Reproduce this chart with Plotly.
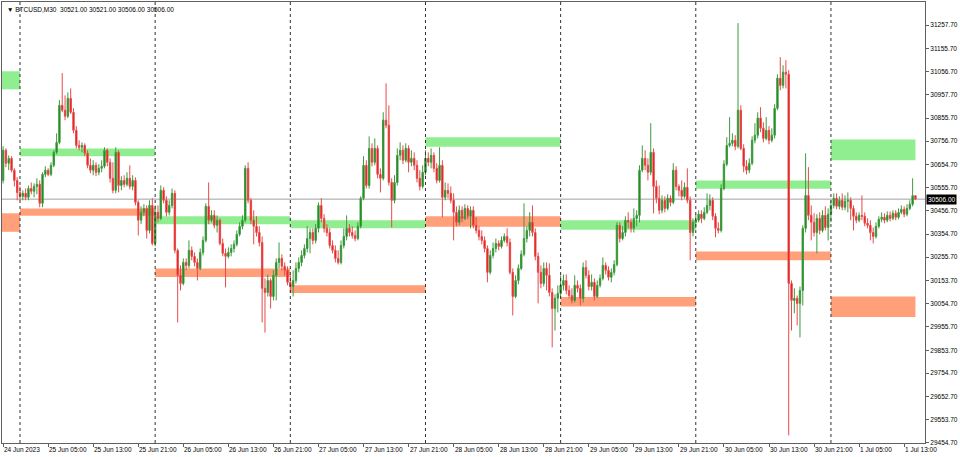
import plotly.graph_objects as go

# ---- OHLC data (M30 bars, 24 Jun 2023 21:00 -> 1 Jul 2023 15:00) ----
opens = [
    30587, 30717, 30661, 30682, 30631, 30587,
    30535, 30518, 30531, 30514, 30552, 30540, 30561, 30570, 30488, 30613, 30631, 30613, 30652, 30708, 30751, 30911, 30890, 30864, 30941, 30881, 30803, 30738, 30730, 30738, 30704, 30652, 30631, 30652, 30622, 30639, 30648, 30717, 30665, 30596, 30544, 30708, 30565, 30587, 30570, 30596, 30561, 30587, 30492, 30415, 30449, 30466, 30371, 30479,
    30315, 30449, 30423, 30544, 30501, 30449, 30479, 30531, 30285, 30177, 30142, 30233, 30220, 30285, 30259, 30233, 30207, 30276, 30328, 30475, 30415, 30436, 30393, 30415, 30315, 30272, 30259, 30276, 30293, 30311, 30354, 30389, 30415, 30639, 30501, 30415, 30389, 30362, 30319, 30121, 30103, 30155, 30086, 30177, 30233, 30250, 30216, 30199,
    30147, 30129, 30155, 30207, 30233, 30263, 30293, 30336, 30362, 30328, 30380, 30479, 30423, 30380, 30362, 30306, 30285, 30250, 30233, 30306, 30345, 30380, 30362, 30349, 30336, 30389, 30510, 30652, 30565, 30725, 30665, 30725, 30613, 30596, 30847, 30825, 30578, 30501, 30578, 30695, 30717, 30674, 30725, 30665, 30682, 30652, 30596, 30561,
    30622, 30682, 30665, 30695, 30639, 30587, 30652, 30514, 30544, 30531, 30501, 30449, 30406, 30458, 30423, 30466, 30432, 30458, 30393, 30371, 30345, 30328, 30293, 30190, 30263, 30293, 30315, 30302, 30328, 30345, 30319, 30190, 30086, 30155, 30207, 30268, 30336, 30371, 30406, 30362, 30259, 30190, 30142, 30207, 30177, 30103, 30034, 30078,
    30099, 30134, 30155, 30112, 30090, 30069, 30134, 30121, 30078, 30211, 30177, 30129, 30147, 30086, 30134, 30164, 30220, 30199, 30169, 30190, 30224, 30393, 30336, 30362, 30415, 30406, 30380, 30423, 30436, 30631, 30682, 30652, 30622, 30708, 30561, 30510, 30458, 30501, 30466, 30510, 30492, 30631, 30561, 30544, 30518, 30557, 30501, 30362,
    30406, 30415, 30441, 30423, 30449, 30479, 30501, 30432, 30380, 30371, 30552, 30657, 30738, 30747, 30760, 30734, 30890, 30725, 30648, 30631, 30661, 30760, 30782, 30856, 30812, 30768, 30803, 30760, 30782, 30898, 31028, 30997, 31054, 31045, 30142, 30069, 30078, 30056, 30112, 30380, 30522, 30436, 30406, 30362, 30423, 30371, 30436, 30384,
    30441, 30479, 30510, 30475, 30501, 30471, 30497, 30501, 30466, 30432, 30415, 30436, 30432, 30402, 30393, 30362, 30345, 30389, 30419, 30428, 30415, 30436, 30423, 30445, 30428, 30449, 30462, 30441, 30466, 30484, 30521,
]
highs = [
    30734, 30725, 30695, 30691, 30639, 30601,
    30561, 30544, 30552, 30565, 30578, 30574, 30596, 30587, 30622, 30648, 30639, 30665, 30717, 30790, 30933, 31050, 30954, 30967, 30984, 30898, 30821, 30760, 30751, 30747, 30717, 30682, 30674, 30665, 30657, 30674, 30730, 30725, 30682, 30665, 30730, 30717, 30605, 30609, 30622, 30652, 30609, 30600, 30501, 30475, 30484, 30479, 30501, 30510,
    30479, 30479, 30565, 30557, 30518, 30501, 30552, 30544, 30293, 30220, 30250, 30250, 30328, 30302, 30276, 30250, 30293, 30345, 30488, 30578, 30458, 30458, 30436, 30423, 30336, 30293, 30298, 30311, 30328, 30371, 30406, 30436, 30652, 30665, 30510, 30458, 30432, 30389, 30345, 30164, 30181, 30164, 30199, 30250, 30319, 30268, 30233, 30216,
    30177, 30199, 30233, 30255, 30285, 30311, 30389, 30380, 30380, 30398, 30492, 30510, 30441, 30398, 30380, 30328, 30306, 30285, 30328, 30380, 30436, 30398, 30389, 30371, 30406, 30518, 30691, 30674, 30777, 30747, 30768, 30738, 30639, 30881, 31006, 30911, 30596, 30609, 30725, 30751, 30738, 30747, 30738, 30717, 30708, 30674, 30631, 30652,
    30717, 30708, 30725, 30708, 30661, 30730, 30674, 30578, 30574, 30561, 30531, 30475, 30479, 30475, 30484, 30479, 30475, 30475, 30428, 30389, 30371, 30345, 30306, 30285, 30319, 30336, 30328, 30345, 30358, 30380, 30336, 30207, 30177, 30224, 30285, 30488, 30389, 30449, 30479, 30380, 30276, 30220, 30233, 30233, 30229, 30121, 30095, 30134,
    30177, 30181, 30181, 30134, 30121, 30177, 30155, 30138, 30233, 30242, 30199, 30181, 30164, 30155, 30181, 30255, 30233, 30216, 30207, 30242, 30406, 30406, 30389, 30432, 30449, 30423, 30466, 30458, 30652, 30738, 30717, 30682, 30834, 30725, 30587, 30565, 30522, 30518, 30527, 30522, 30661, 30648, 30570, 30587, 30578, 30639, 30518, 30423,
    30441, 30458, 30458, 30471, 30531, 30527, 30514, 30445, 30406, 30570, 30674, 30773, 30860, 30790, 30782, 31266, 30911, 30743, 30674, 30682, 30777, 30834, 30881, 30903, 30838, 30860, 30821, 30812, 30916, 31045, 31119, 31084, 31106, 31063, 30155, 30121, 30090, 30129, 30393, 30704, 30644, 30479, 30445, 30441, 30449, 30458, 30475, 30466,
    30501, 30531, 30531, 30518, 30531, 30522, 30535, 30514, 30479, 30449, 30449, 30522, 30449, 30423, 30415, 30384, 30406, 30432, 30449, 30445, 30453, 30453, 30458, 30458, 30466, 30479, 30475, 30484, 30501, 30596, 30521,
]
lows = [
    30574, 30644, 30631, 30622, 30561, 30501,
    30501, 30501, 30501, 30501, 30527, 30514, 30527, 30471, 30471, 30601, 30605, 30605, 30644, 30700, 30743, 30881, 30847, 30856, 30873, 30790, 30725, 30717, 30708, 30691, 30639, 30618, 30609, 30605, 30609, 30622, 30639, 30648, 30578, 30531, 30531, 30535, 30544, 30557, 30561, 30548, 30544, 30479, 30349, 30398, 30432, 30336, 30358, 30306,
    30302, 30406, 30415, 30488, 30432, 30436, 30466, 30272, 29974, 30112, 30134, 30199, 30207, 30242, 30216, 30155, 30199, 30263, 30319, 30398, 30406, 30380, 30362, 30306, 30259, 30125, 30250, 30259, 30276, 30302, 30345, 30376, 30406, 30488, 30398, 30311, 30345, 30302, 29974, 29930, 30086, 30034, 30069, 30069, 30207, 30199, 30177, 30134,
    30103, 30086, 30142, 30190, 30216, 30250, 30276, 30272, 30311, 30315, 30362, 30406, 30362, 30345, 30293, 30272, 30233, 30224, 30224, 30293, 30328, 30345, 30336, 30324, 30328, 30380, 30501, 30552, 30552, 30648, 30652, 30596, 30535, 30587, 30812, 30565, 30384, 30488, 30565, 30674, 30657, 30665, 30622, 30648, 30631, 30578, 30544, 30552,
    30609, 30648, 30639, 30622, 30574, 30578, 30428, 30501, 30510, 30488, 30328, 30389, 30393, 30406, 30415, 30419, 30380, 30380, 30358, 30328, 30311, 30276, 30147, 30181, 30250, 30276, 30285, 30293, 30319, 30302, 30181, 30004, 30078, 30138, 30199, 30259, 30319, 30345, 30345, 30242, 30056, 30121, 30129, 30112, 30086, 29866, 29939, 30017,
    30078, 30112, 30095, 30078, 30056, 30060, 30103, 30047, 30060, 30164, 30112, 30112, 30069, 30078, 30125, 30155, 30181, 30155, 30147, 30177, 30216, 30319, 30328, 30345, 30380, 30362, 30362, 30389, 30406, 30622, 30631, 30587, 30609, 30445, 30488, 30441, 30445, 30449, 30458, 30475, 30484, 30544, 30518, 30501, 30510, 30488, 30242, 30345,
    30380, 30406, 30402, 30415, 30441, 30458, 30415, 30341, 30358, 30362, 30544, 30648, 30730, 30734, 30717, 30725, 30717, 30622, 30613, 30618, 30652, 30747, 30768, 30795, 30751, 30760, 30743, 30751, 30768, 30890, 30976, 30984, 30984, 29486, 29939, 30013, 29961, 29909, 30047, 30362, 30415, 30328, 30345, 30272, 30354, 30362, 30371, 30328,
    30406, 30466, 30462, 30462, 30458, 30458, 30449, 30415, 30371, 30402, 30406, 30415, 30389, 30380, 30328, 30315, 30336, 30380, 30406, 30402, 30406, 30410, 30415, 30415, 30419, 30441, 30428, 30432, 30458, 30475, 30506,
]
closes = [
    30717, 30661, 30682, 30631, 30587, 30535,
    30518, 30531, 30514, 30552, 30540, 30561, 30570, 30488, 30613, 30631, 30613, 30652, 30708, 30751, 30911, 30890, 30864, 30941, 30881, 30803, 30738, 30730, 30738, 30704, 30652, 30631, 30652, 30622, 30639, 30648, 30717, 30665, 30596, 30544, 30708, 30565, 30587, 30570, 30596, 30561, 30587, 30492, 30415, 30449, 30466, 30371, 30479, 30315,
    30449, 30423, 30544, 30501, 30449, 30479, 30531, 30285, 30177, 30142, 30233, 30220, 30285, 30259, 30233, 30207, 30276, 30328, 30475, 30415, 30436, 30393, 30415, 30315, 30272, 30259, 30276, 30293, 30311, 30354, 30389, 30415, 30639, 30501, 30415, 30389, 30362, 30319, 30121, 30103, 30155, 30086, 30177, 30233, 30250, 30216, 30199, 30147,
    30129, 30155, 30207, 30233, 30263, 30293, 30336, 30362, 30328, 30380, 30479, 30423, 30380, 30362, 30306, 30285, 30250, 30233, 30306, 30345, 30380, 30362, 30349, 30336, 30389, 30510, 30652, 30565, 30725, 30665, 30725, 30613, 30596, 30847, 30825, 30578, 30501, 30578, 30695, 30717, 30674, 30725, 30665, 30682, 30652, 30596, 30561, 30622,
    30682, 30665, 30695, 30639, 30587, 30652, 30514, 30544, 30531, 30501, 30449, 30406, 30458, 30423, 30466, 30432, 30458, 30393, 30371, 30345, 30328, 30293, 30190, 30263, 30293, 30315, 30302, 30328, 30345, 30319, 30190, 30086, 30155, 30207, 30268, 30336, 30371, 30406, 30362, 30259, 30190, 30142, 30207, 30177, 30103, 30034, 30078, 30099,
    30134, 30155, 30112, 30090, 30069, 30134, 30121, 30078, 30211, 30177, 30129, 30147, 30086, 30134, 30164, 30220, 30199, 30169, 30190, 30224, 30393, 30336, 30362, 30415, 30406, 30380, 30423, 30436, 30631, 30682, 30652, 30622, 30708, 30561, 30510, 30458, 30501, 30466, 30510, 30492, 30631, 30561, 30544, 30518, 30557, 30501, 30362, 30406,
    30415, 30441, 30423, 30449, 30479, 30501, 30432, 30380, 30371, 30552, 30657, 30738, 30747, 30760, 30734, 30890, 30725, 30648, 30631, 30661, 30760, 30782, 30856, 30812, 30768, 30803, 30760, 30782, 30898, 31028, 30997, 31054, 31045, 30142, 30069, 30078, 30056, 30112, 30380, 30522, 30436, 30406, 30362, 30423, 30371, 30436, 30384, 30441,
    30479, 30510, 30475, 30501, 30471, 30497, 30501, 30466, 30432, 30415, 30436, 30432, 30402, 30393, 30362, 30345, 30389, 30419, 30428, 30415, 30436, 30423, 30445, 30428, 30449, 30462, 30441, 30466, 30484, 30521, 30506,
]

# ---- axis labels ----
time_tick_bars = [0, 16, 32, 48, 64, 80, 96, 112, 128, 144, 160, 176, 192, 208, 224, 240, 256, 272, 288, 304, 320]
time_tick_labels = ["24 Jun 2023", "25 Jun 05:00", "25 Jun 13:00", "25 Jun 21:00", "26 Jun 05:00",
                    "26 Jun 13:00", "26 Jun 21:00", "27 Jun 05:00", "27 Jun 13:00", "27 Jun 21:00",
                    "28 Jun 05:00", "28 Jun 13:00", "28 Jun 21:00", "29 Jun 05:00", "29 Jun 13:00",
                    "29 Jun 21:00", "30 Jun 05:00", "30 Jun 13:00", "30 Jun 21:00", "1 Jul 05:00", "1 Jul 13:00"]
price_ticks = [31257.70, 31155.70, 31056.70, 30957.70, 30855.70, 30756.70, 30654.70, 30555.70,
               30456.70, 30354.70, 30255.70, 30153.70, 30054.70, 29955.70, 29853.70, 29754.70,
               29652.70, 29553.70, 29454.70]
day_separators = [6, 54, 102, 150, 198, 246, 294]

# ---- daily zones ----
zone_start = [-1, 6, 54, 102, 150, 198, 246, 294]
zone_end = [6, 54, 102, 150, 198, 246, 294, 324]
green_top = [31058, 30725, 30432, 30415, 30773, 30415, 30587, 30763]
green_bot = [30980, 30691, 30398, 30380, 30732, 30374, 30551, 30674]
red_top = [30445, 30466, 30207, 30134, 30432, 30084, 30280, 30086]
red_bot = [30365, 30434, 30170, 30101, 30387, 30043, 30242, 29997]

last_price = 30506.00
header = "BTCUSD,M30  30521.00 30521.00 30506.00 30506.00"

n = len(closes)
assert len(opens) == n and len(highs) == n and len(lows) == n, (len(opens), len(highs), len(lows), n)
bars = list(range(n))

FONT = "Liberation Sans"
fig = go.Figure()
fig.add_trace(go.Candlestick(
    x=bars, open=opens, high=highs, low=lows, close=closes,
    increasing=dict(line=dict(color="#3f9a3f", width=1), fillcolor="#0a800a"),
    decreasing=dict(line=dict(color="#e84a4a", width=1), fillcolor="#e60000"),
    whiskerwidth=0, showlegend=False, hoverinfo="skip",
))

shapes = []
for s, e, gt, gb, rt, rb in zip(zone_start, zone_end, green_top, green_bot, red_top, red_bot):
    shapes.append(dict(type="rect", xref="x", yref="y", x0=s, x1=e, y0=gb, y1=gt,
                       fillcolor="#90ee90", line=dict(width=0), layer="below"))
    shapes.append(dict(type="rect", xref="x", yref="y", x0=s, x1=e, y0=rb, y1=rt,
                       fillcolor="#ffa07a", line=dict(width=0), layer="below"))
shapes.append(dict(type="line", xref="paper", yref="y", x0=0, x1=1, y0=last_price, y1=last_price,
                   line=dict(color="#a0a0a0", width=1), layer="below"))
for d in day_separators:
    shapes.append(dict(type="line", xref="x", yref="paper", x0=d, x1=d, y0=0, y1=1,
                       line=dict(color="#303030", width=1, dash="dot"), layer="above"))

annotations = []
for b, lab in zip(time_tick_bars, time_tick_labels):
    annotations.append(dict(x=b, xref="x", y=0, yref="paper", text=lab, showarrow=False,
                            xanchor="left", yanchor="top", yshift=-1, xshift=-1,
                            font=dict(family=FONT, size=6.5, color="#000000")))
annotations.append(dict(x=1, xref="paper", y=last_price, yref="y", text="30506.00", showarrow=False,
                        xanchor="left", yanchor="middle", xshift=1, bgcolor="#000000", borderpad=1,
                        font=dict(family=FONT, size=6.5, color="#ffffff")))
annotations.append(dict(x=0, xref="paper", y=1, yref="paper", text="\u25bc " + header, showarrow=False,
                        xanchor="left", yanchor="top", xshift=3, yshift=-2,
                        font=dict(family=FONT, size=6.5, color="#000000")))

fig.update_layout(
    width=960, height=457,
    margin=dict(l=2, r=35, t=2, b=14, autoexpand=False),
    paper_bgcolor="#ffffff", plot_bgcolor="#ffffff",
    shapes=shapes, annotations=annotations,
    showlegend=False,
    xaxis=dict(range=[-0.39, 327.4], rangeslider=dict(visible=False), showgrid=False, zeroline=False,
               tickmode="array", tickvals=time_tick_bars, showticklabels=False,
               ticks="outside", ticklen=3, tickcolor="#606060",
               showline=True, linecolor="#606060", linewidth=1, mirror=True),
    yaxis=dict(range=[29453.4, 31357.0], side="right", showgrid=False, zeroline=False,
               tickmode="array", tickvals=price_ticks, ticktext=[f"{p:.2f}" for p in price_ticks],
               ticks="outside", ticklen=3, tickcolor="#606060",
               tickfont=dict(family=FONT, size=6.5, color="#000000"),
               showline=True, linecolor="#606060", linewidth=1, mirror=True),
)

fig.write_html("out.html", config={"displayModeBar": False},
               post_script="document.body.style.margin='0px';document.body.style.overflow='hidden';")
